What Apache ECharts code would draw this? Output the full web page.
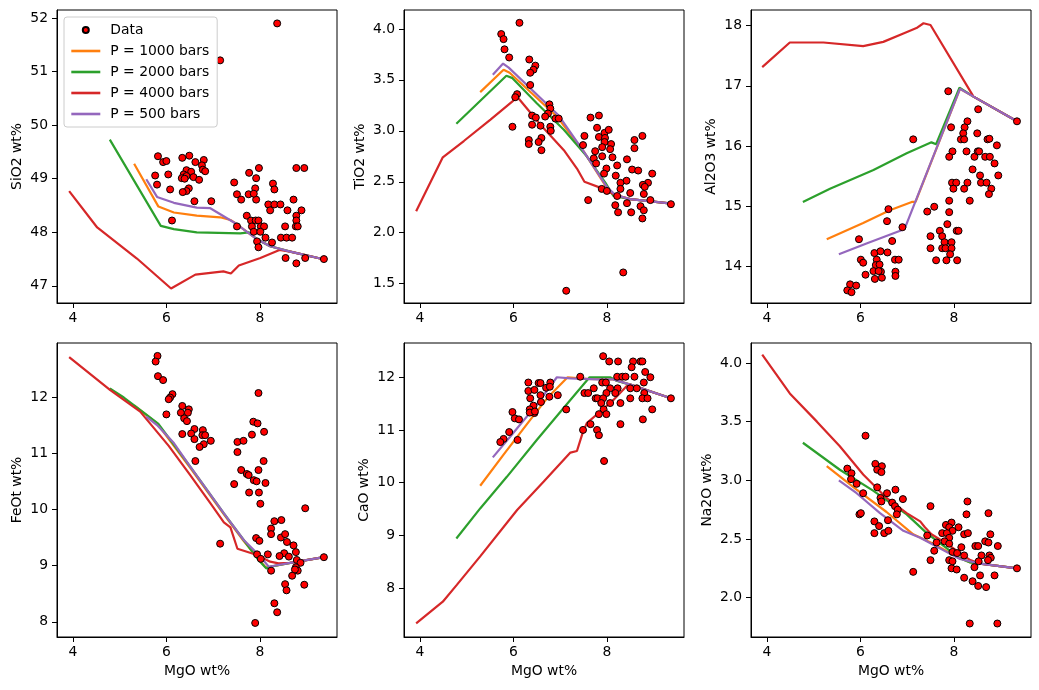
<!DOCTYPE html>
<html>
<head>
<meta charset="utf-8">
<script src="https://cdn.jsdelivr.net/npm/echarts@6/dist/echarts.min.js"></script>
<style>html,body{margin:0;padding:0;background:#fff;}#c{width:1039px;height:690px;}</style>
</head>
<body>
<div id="c"></div>
<script>
// ---- shared axis info ----
const MGO_RANGE = [3.66, 9.65];
const MGO_TICKS = [4, 6, 8];
const SERIES_NAMES = ['Data', 'P = 1000 bars', 'P = 2000 bars', 'P = 4000 bars', 'P = 500 bars'];

// ---- SiO2 ----
const SIO2_RANGE = [46.68, 52.15];
const SIO2_TICKS = [47, 48, 49, 50, 51, 52];
const SIO2_DATA = [[8.37,51.90],[7.15,51.21],[5.82,49.42],[5.93,49.31],[6.00,49.33],[5.76,49.06],[6.04,49.08],[5.80,48.89],[6.08,48.80],[6.12,48.22],[6.34,49.39],[6.49,49.43],[6.62,49.31],[6.80,49.35],[6.76,49.25],[6.78,49.17],[6.83,49.14],[6.43,49.16],[6.53,49.13],[6.37,49.08],[6.43,49.05],[6.58,49.03],[6.33,49.01],[6.39,49.00],[6.70,48.98],[6.48,48.82],[6.43,48.77],[6.35,48.75],[6.60,48.58],[6.96,48.58],[7.45,48.93],[7.77,49.11],[7.98,49.20],[7.92,49.01],[8.28,48.91],[8.31,48.80],[7.90,48.82],[7.51,48.71],[7.60,48.61],[7.76,48.71],[7.92,48.61],[7.87,48.72],[8.18,48.52],[8.31,48.52],[8.44,48.52],[8.22,48.41],[8.72,48.61],[8.78,49.20],[8.95,49.20],[8.89,48.41],[8.59,48.41],[7.72,48.31],[7.81,48.22],[7.91,48.22],[7.97,48.22],[8.78,48.31],[8.78,48.22],[7.51,48.11],[7.83,48.11],[8.02,48.11],[8.09,48.11],[8.54,48.11],[8.77,48.11],[8.81,48.11],[7.87,48.01],[8.01,48.01],[8.12,47.90],[8.26,47.81],[8.45,47.90],[8.57,47.90],[8.69,47.90],[7.94,47.83],[7.97,47.72],[8.55,47.52],[8.78,47.42],[8.97,47.52],[9.37,47.50]];
const SIO2_P1000 = [[5.31,49.28],[5.83,48.48],[6.16,48.37],[6.65,48.31],[7.15,48.28],[7.37,48.23],[7.51,48.15],[7.94,47.87],[8.22,47.74],[8.65,47.64],[9.29,47.51],[9.37,47.50]];
const SIO2_P2000 = [[4.79,49.73],[5.88,48.12],[6.16,48.06],[6.65,48.00],[7.58,47.98],[7.76,48.00],[7.94,47.87],[8.22,47.74],[8.65,47.64],[9.29,47.51],[9.37,47.50]];
const SIO2_P4000 = [[3.92,48.77],[4.52,48.09],[5.37,47.51],[6.10,46.95],[6.62,47.21],[7.22,47.27],[7.38,47.23],[7.55,47.38],[8.01,47.52],[8.42,47.67],[8.65,47.64],[9.29,47.51],[9.37,47.50]];
const SIO2_P500 = [[5.57,48.99],[5.80,48.66],[6.16,48.55],[6.65,48.46],[6.94,48.45],[7.51,48.15],[7.94,47.87],[8.22,47.74],[8.65,47.64],[9.29,47.51],[9.37,47.50]];

// ---- TiO2 ----
const TIO2_RANGE = [1.31, 4.186];
const TIO2_TICKS = [1.5, 2.0, 2.5, 3.0, 3.5, 4.0];
const TIO2_DATA = [[6.13,4.06],[5.74,3.95],[5.79,3.90],[5.81,3.80],[5.91,3.72],[6.34,3.70],[6.47,3.64],[6.43,3.60],[6.36,3.57],[6.36,3.45],[6.08,3.36],[6.04,3.33],[6.77,3.26],[6.79,3.22],[6.74,3.17],[6.40,3.15],[6.48,3.13],[6.68,3.14],[6.90,3.12],[6.97,3.12],[5.98,3.04],[6.40,3.06],[6.58,3.05],[6.79,3.04],[6.80,3.00],[6.33,2.91],[6.33,2.87],[6.60,2.93],[6.54,2.89],[6.60,2.81],[7.13,1.43],[7.52,2.95],[7.49,2.86],[7.65,3.13],[7.83,3.15],[7.79,3.03],[7.83,2.94],[7.95,2.98],[8.04,3.01],[7.96,2.93],[7.95,2.89],[8.09,2.87],[7.90,2.84],[8.07,2.82],[7.75,2.80],[7.72,2.73],[7.90,2.75],[8.12,2.74],[7.77,2.68],[7.99,2.63],[7.94,2.58],[8.22,2.66],[8.43,2.72],[8.59,2.91],[8.59,2.83],[8.76,2.95],[8.54,2.62],[8.67,2.61],[8.97,2.58],[8.19,2.56],[8.42,2.51],[8.29,2.49],[8.88,2.49],[8.77,2.47],[8.81,2.45],[7.89,2.43],[8.00,2.41],[8.29,2.43],[8.50,2.39],[8.79,2.38],[8.22,2.36],[7.60,2.32],[8.43,2.29],[8.93,2.32],[8.18,2.27],[8.72,2.26],[8.79,2.22],[8.24,2.20],[8.52,2.20],[8.76,2.14],[8.35,1.61],[9.37,2.28]];
const TIO2_P1000 = [[5.29,3.38],[5.79,3.60],[5.92,3.57],[6.93,3.14],[7.50,2.80],[8.00,2.44],[8.18,2.37],[8.50,2.33],[9.29,2.29],[9.37,2.28]];
const TIO2_P2000 = [[4.78,3.07],[5.85,3.54],[5.97,3.52],[6.50,3.27],[7.08,3.01],[7.57,2.75],[7.97,2.49],[8.14,2.36],[8.50,2.33],[9.29,2.29],[9.37,2.28]];
const TIO2_P4000 = [[3.92,2.21],[4.49,2.74],[4.94,2.90],[5.51,3.11],[6.09,3.33],[6.58,3.06],[7.08,2.81],[7.36,2.63],[7.52,2.50],[7.87,2.44],[8.18,2.37],[8.50,2.33],[9.29,2.29],[9.37,2.28]];
const TIO2_P500 = [[5.56,3.55],[5.78,3.66],[5.90,3.62],[6.97,3.15],[7.50,2.80],[8.00,2.45],[8.18,2.37],[8.50,2.33],[9.29,2.29],[9.37,2.28]];

// ---- Al2O3 ----
const AL2O3_RANGE = [13.39, 18.26];
const AL2O3_TICKS = [14, 15, 16, 17, 18];
const AL2O3_DATA = [[7.88,16.91],[8.52,16.61],[8.29,16.41],[8.23,16.31],[7.94,16.31],[8.20,16.21],[8.50,16.21],[8.15,16.11],[8.22,16.11],[8.72,16.11],[8.76,16.12],[8.92,16.01],[7.13,16.11],[7.97,15.91],[7.90,15.82],[8.27,15.91],[8.44,15.82],[8.51,15.91],[8.54,15.91],[8.67,15.82],[8.77,15.82],[8.87,15.71],[8.40,15.61],[8.56,15.51],[8.95,15.51],[7.96,15.39],[8.05,15.39],[8.29,15.39],[8.58,15.39],[8.70,15.39],[7.99,15.29],[8.22,15.29],[8.80,15.29],[8.75,15.20],[7.90,15.09],[8.34,15.09],[7.58,14.99],[7.43,14.91],[7.90,14.90],[6.60,14.95],[6.57,14.75],[6.90,14.65],[7.86,14.70],[7.70,14.59],[8.06,14.59],[8.10,14.59],[5.97,14.45],[6.68,14.42],[7.50,14.50],[7.75,14.50],[7.80,14.40],[7.95,14.40],[7.50,14.30],[7.75,14.30],[7.82,14.30],[7.95,14.30],[7.92,14.20],[7.62,14.10],[7.84,14.10],[8.07,14.10],[6.30,14.22],[6.43,14.25],[6.58,14.23],[6.35,14.11],[6.01,14.11],[6.06,14.06],[6.74,14.11],[6.82,14.11],[6.33,14.02],[6.41,14.03],[6.44,13.91],[6.28,13.92],[6.39,13.92],[6.75,13.91],[6.75,13.84],[6.11,13.86],[6.46,13.81],[6.31,13.79],[5.78,13.70],[5.91,13.68],[5.72,13.60],[5.81,13.57],[9.35,16.41]];
const AL2O3_P1000 = [[5.28,14.45],[6.06,14.72],[6.63,14.93],[7.10,15.07],[7.18,15.07],[8.13,16.95],[8.42,16.82],[9.35,16.41]];
const AL2O3_P2000 = [[4.77,15.07],[5.35,15.29],[6.28,15.60],[6.99,15.88],[7.52,16.06],[7.62,16.03],[8.12,16.97],[8.42,16.82],[9.35,16.41]];
const AL2O3_P4000 = [[3.90,17.31],[4.49,17.72],[5.21,17.72],[6.06,17.66],[6.49,17.73],[6.92,17.87],[7.20,17.96],[7.35,18.04],[7.50,18.01],[8.42,16.82],[9.35,16.41]];
const AL2O3_P500 = [[5.54,14.20],[6.13,14.38],[6.88,14.60],[6.95,14.63],[8.13,16.95],[8.42,16.82],[9.35,16.41]];

// ---- FeOt ----
const FEOT_RANGE = [7.73, 12.96];
const FEOT_TICKS = [8, 9, 10, 11, 12];
const FEOT_DATA = [[5.81,12.73],[5.77,12.63],[5.82,12.37],[5.93,12.30],[7.97,12.07],[6.13,12.05],[6.08,11.99],[6.05,11.96],[6.34,11.84],[6.48,11.78],[6.46,11.72],[6.31,11.72],[6.00,11.69],[6.38,11.62],[6.44,11.57],[7.86,11.56],[7.95,11.53],[8.09,11.38],[7.83,11.33],[6.60,11.43],[6.78,11.41],[6.34,11.34],[6.53,11.35],[6.77,11.32],[6.83,11.32],[6.60,11.25],[6.95,11.22],[7.52,11.20],[7.65,11.22],[6.80,11.16],[6.71,11.11],[7.52,11.02],[6.62,10.86],[8.08,10.86],[7.60,10.70],[7.72,10.63],[7.76,10.61],[7.97,10.70],[7.87,10.52],[7.93,10.50],[8.12,10.47],[7.45,10.45],[7.77,10.30],[7.98,10.30],[8.01,10.10],[8.97,10.02],[8.31,9.79],[8.46,9.81],[8.24,9.66],[8.24,9.56],[8.45,9.50],[8.54,9.56],[7.92,9.49],[7.99,9.44],[8.58,9.42],[8.72,9.36],[7.15,9.39],[8.17,9.20],[8.52,9.22],[8.77,9.24],[8.42,9.17],[8.62,9.16],[7.94,9.20],[8.02,9.12],[8.79,9.10],[8.87,9.05],[8.24,8.91],[8.77,8.97],[8.81,8.91],[8.75,8.93],[8.69,8.82],[8.54,8.67],[8.95,8.66],[8.57,8.56],[8.31,8.33],[8.37,8.17],[7.90,7.98],[9.37,9.15]];
const FEOT_P1000 = [[5.31,11.85],[5.80,11.53],[6.51,10.74],[7.23,9.91],[7.65,9.44],[8.12,8.97],[8.22,8.98],[8.65,9.05],[9.37,9.15]];
const FEOT_P2000 = [[4.79,12.15],[5.09,11.99],[5.55,11.70],[5.83,11.52],[6.51,10.76],[7.23,9.93],[7.65,9.46],[7.97,9.10],[8.14,8.95],[8.22,8.98],[8.65,9.05],[9.37,9.15]];
const FEOT_P4000 = [[3.92,12.71],[4.80,12.12],[5.44,11.74],[6.05,11.13],[6.51,10.61],[6.94,10.11],[7.23,9.77],[7.37,9.68],[7.52,9.30],[7.94,9.19],[8.22,9.07],[8.40,9.04],[8.65,9.05],[9.37,9.15]];
const FEOT_P500 = [[5.57,11.65],[5.80,11.50],[6.16,11.18],[6.51,10.76],[7.23,9.93],[7.65,9.46],[8.01,9.16],[8.19,8.98],[8.65,9.05],[9.37,9.15]];

// ---- CaO ----
const CAO_RANGE = [7.07, 12.65];
const CAO_TICKS = [8, 9, 10, 11, 12];
const CAO_DATA = [[7.92,12.40],[8.05,12.30],[8.24,12.30],[8.56,12.30],[8.72,12.30],[8.76,12.30],[8.53,12.19],[8.82,12.10],[7.43,12.01],[8.22,12.01],[8.33,12.01],[8.40,12.01],[8.59,12.01],[8.93,12.00],[6.32,11.90],[6.54,11.89],[6.58,11.89],[6.79,11.90],[7.90,11.90],[7.98,11.90],[8.79,11.90],[6.70,11.80],[6.78,11.82],[7.72,11.79],[8.07,11.79],[8.23,11.79],[8.50,11.79],[8.64,11.79],[6.32,11.74],[6.45,11.76],[7.52,11.70],[7.60,11.70],[7.99,11.70],[8.18,11.70],[8.80,11.70],[6.36,11.60],[6.58,11.66],[6.77,11.63],[6.95,11.66],[7.76,11.60],[7.80,11.60],[7.92,11.60],[8.50,11.60],[8.76,11.60],[8.87,11.60],[6.59,11.53],[7.88,11.51],[8.07,11.51],[8.29,11.51],[6.43,11.46],[6.35,11.39],[6.45,11.32],[7.13,11.39],[7.93,11.39],[8.97,11.39],[5.98,11.34],[6.35,11.33],[6.46,11.35],[7.83,11.30],[7.99,11.30],[6.03,11.22],[6.12,11.20],[8.77,11.20],[7.65,11.11],[8.29,11.11],[5.91,10.96],[7.49,11.00],[7.79,11.00],[5.79,10.83],[5.72,10.77],[6.09,10.81],[7.83,10.90],[7.94,10.41],[9.37,11.60]];
const CAO_P1000 = [[5.29,9.94],[5.79,10.53],[6.36,11.19],[6.72,11.60],[7.16,12.00],[7.57,11.97],[8.14,11.96],[8.50,11.86],[9.37,11.60]];
const CAO_P2000 = [[4.78,8.94],[5.29,9.51],[5.86,10.11],[6.50,10.81],[7.07,11.41],[7.63,12.00],[8.07,12.00],[8.22,11.93],[8.50,11.86],[9.37,11.60]];
const CAO_P4000 = [[3.92,7.33],[4.49,7.74],[4.79,8.06],[5.29,8.60],[6.08,9.48],[6.65,10.02],[7.22,10.57],[7.36,10.60],[7.47,10.91],[7.57,11.13],[7.86,11.35],[8.14,11.57],[8.42,11.83],[8.50,11.86],[9.37,11.60]];
const CAO_P500 = [[5.56,10.48],[5.93,10.87],[6.50,11.48],[6.93,12.00],[7.22,11.98],[7.79,11.96],[8.14,11.96],[8.50,11.86],[9.37,11.60]];

// ---- Na2O ----
const NA2O_RANGE = [1.665, 4.17];
const NA2O_TICKS = [2.0, 2.5, 3.0, 3.5, 4.0];
const NA2O_DATA = [[6.11,3.38],[6.32,3.14],[6.46,3.12],[6.36,3.09],[6.45,3.07],[5.72,3.10],[5.81,3.06],[5.80,3.01],[5.92,2.97],[6.36,2.94],[6.75,2.92],[6.06,2.89],[6.57,2.89],[6.91,2.84],[6.43,2.85],[6.45,2.82],[6.68,2.81],[6.74,2.78],[6.80,2.75],[7.50,2.78],[8.29,2.82],[6.78,2.71],[5.98,2.71],[6.01,2.72],[8.27,2.71],[8.74,2.72],[6.59,2.66],[6.30,2.65],[6.40,2.61],[6.30,2.55],[6.51,2.55],[6.60,2.57],[7.83,2.62],[7.95,2.64],[7.90,2.60],[8.10,2.60],[7.97,2.57],[7.43,2.53],[7.75,2.55],[7.85,2.55],[7.90,2.51],[8.22,2.54],[8.30,2.55],[8.78,2.54],[7.63,2.47],[7.80,2.48],[7.90,2.46],[8.67,2.48],[8.74,2.47],[8.94,2.44],[8.16,2.43],[8.46,2.44],[8.52,2.44],[7.58,2.40],[7.97,2.39],[8.07,2.38],[8.22,2.36],[8.59,2.36],[8.76,2.36],[8.79,2.34],[8.73,2.32],[7.50,2.32],[7.90,2.32],[7.97,2.31],[8.53,2.31],[8.44,2.26],[7.95,2.25],[8.06,2.24],[7.13,2.22],[8.56,2.19],[8.87,2.19],[8.22,2.17],[8.40,2.14],[8.52,2.10],[8.69,2.09],[8.34,1.78],[8.93,1.78],[9.35,2.25]];
const NA2O_P1000 = [[5.28,3.12],[5.92,2.92],[6.56,2.73],[7.13,2.54],[7.56,2.46],[8.06,2.35],[8.35,2.30],[8.56,2.29],[9.35,2.25]];
const NA2O_P2000 = [[4.77,3.32],[5.56,3.09],[6.28,2.91],[6.99,2.71],[7.42,2.55],[7.85,2.42],[8.10,2.34],[8.35,2.30],[8.56,2.29],[9.35,2.25]];
const NA2O_P4000 = [[3.90,4.07],[4.49,3.74],[5.07,3.50],[5.56,3.29],[6.06,3.05],[6.56,2.85],[6.99,2.72],[7.28,2.65],[7.38,2.60],[7.52,2.54],[7.85,2.46],[8.13,2.38],[8.35,2.32],[8.56,2.29],[9.35,2.25]];
const NA2O_P500 = [[5.54,3.00],[5.92,2.89],[6.42,2.72],[6.92,2.57],[7.28,2.51],[7.70,2.42],[8.13,2.33],[8.56,2.29],[9.35,2.25]];

// ---- layout / styling ----
const FONT = 'DejaVu Sans';
const FS = 13.9;
const COLORS = {'P = 1000 bars':'#ff7f0e','P = 2000 bars':'#2ca02c','P = 4000 bars':'#d62728','P = 500 bars':'#9467bd'};

const panels = [
  {label:'SiO2 wt%', range:SIO2_RANGE, ticks:SIO2_TICKS, dec:0, gap:33, data:SIO2_DATA, lines:[SIO2_P1000,SIO2_P2000,SIO2_P4000,SIO2_P500], left:57, top:10, h:293},
  {label:'TiO2 wt%', range:TIO2_RANGE, ticks:TIO2_TICKS, dec:1, gap:37, data:TIO2_DATA, lines:[TIO2_P1000,TIO2_P2000,TIO2_P4000,TIO2_P500], left:404, top:10, h:293},
  {label:'Al2O3 wt%', range:AL2O3_RANGE, ticks:AL2O3_TICKS, dec:0, gap:33, data:AL2O3_DATA, lines:[AL2O3_P1000,AL2O3_P2000,AL2O3_P4000,AL2O3_P500], left:751, top:10, h:293},
  {label:'FeOt wt%', range:FEOT_RANGE, ticks:FEOT_TICKS, dec:0, gap:33, data:FEOT_DATA, lines:[FEOT_P1000,FEOT_P2000,FEOT_P4000,FEOT_P500], left:57, top:343, h:294},
  {label:'CaO wt%', range:CAO_RANGE, ticks:CAO_TICKS, dec:0, gap:33, data:CAO_DATA, lines:[CAO_P1000,CAO_P2000,CAO_P4000,CAO_P500], left:404, top:343, h:294},
  {label:'Na2O wt%', range:NA2O_RANGE, ticks:NA2O_TICKS, dec:1, gap:37, data:NA2O_DATA, lines:[NA2O_P1000,NA2O_P2000,NA2O_P4000,NA2O_P500], left:751, top:343, h:294}
];

const grid = [], xAxis = [], yAxis = [], series = [];
panels.forEach((p, i) => {
  grid.push({left:p.left, top:p.top, width:280, height:p.h, show:true, borderColor:'#000', borderWidth:1, backgroundColor:'#fff', containLabel:false});
  const bottomRow = i >= 3;
  xAxis.push({
    type:'value', gridIndex:i, min:MGO_RANGE[0], max:MGO_RANGE[1],
    name: bottomRow ? 'MgO wt%' : '', nameLocation:'middle', nameGap:27,
    nameTextStyle:{fontFamily:FONT, fontSize:FS, color:'#000'},
    axisLine:{show:true, onZero:false, lineStyle:{color:'#000', width:1}},
    axisTick:{show:true, length:5, lineStyle:{color:'#000', width:1}, customValues:MGO_TICKS},
    axisLabel:{show:true, margin:8, fontFamily:FONT, fontSize:FS, color:'#000', customValues:MGO_TICKS, formatter:v=>String(v)},
    splitLine:{show:false}
  });
  yAxis.push({
    type:'value', gridIndex:i, min:p.range[0], max:p.range[1],
    name:p.label, nameLocation:'middle', nameGap:p.gap,
    nameTextStyle:{fontFamily:FONT, fontSize:FS, color:'#000'},
    axisLine:{show:true, onZero:false, lineStyle:{color:'#000', width:1}},
    axisTick:{show:true, length:5, lineStyle:{color:'#000', width:1}, customValues:p.ticks},
    axisLabel:{show:true, margin:9, fontFamily:FONT, fontSize:FS, color:'#000', customValues:p.ticks, formatter:v=>Number(v).toFixed(p.dec)},
    splitLine:{show:false}
  });
  SERIES_NAMES.slice(1).forEach((nm, k) => {
    series.push({
      type:'line', name:nm, xAxisIndex:i, yAxisIndex:i, data:p.lines[k],
      showSymbol:false, symbol:'none', smooth:false,
      lineStyle:{color:COLORS[nm], width:2.2}, itemStyle:{color:COLORS[nm]},
      z:2, animation:false, silent:true
    });
  });
  series.push({
    type:'scatter', name:'Data', xAxisIndex:i, yAxisIndex:i, data:p.data,
    symbol:'circle', symbolSize:7,
    itemStyle:{color:'#ff0000', borderColor:'#000', borderWidth:1, opacity:1},
    z:3, animation:false, silent:true
  });
});

const legendData = SERIES_NAMES.map((nm, k) => k === 0
  ? {name:nm}
  : {name:nm, itemStyle:{opacity:0}, lineStyle:{color:COLORS[nm], width:2.6, opacity:1}});

const chart = echarts.init(document.getElementById('c'), null, {renderer:'canvas'});
chart.setOption({
  animation:false,
  backgroundColor:'#fff',
  grid, xAxis, yAxis, series,
  legend:{
    show:true, data:legendData, orient:'vertical', left:64, top:17,
    itemWidth:29, itemHeight:6, itemGap:7,
    padding:[6,8,6,6],
    backgroundColor:'#fff', borderColor:'#cccccc', borderWidth:1, borderRadius:3,
    selectedMode:false,
    textStyle:{fontFamily:FONT, fontSize:FS, color:'#000', lineHeight:14, padding:[0,0,0,5]}
  }
});
</script>
</body>
</html>
